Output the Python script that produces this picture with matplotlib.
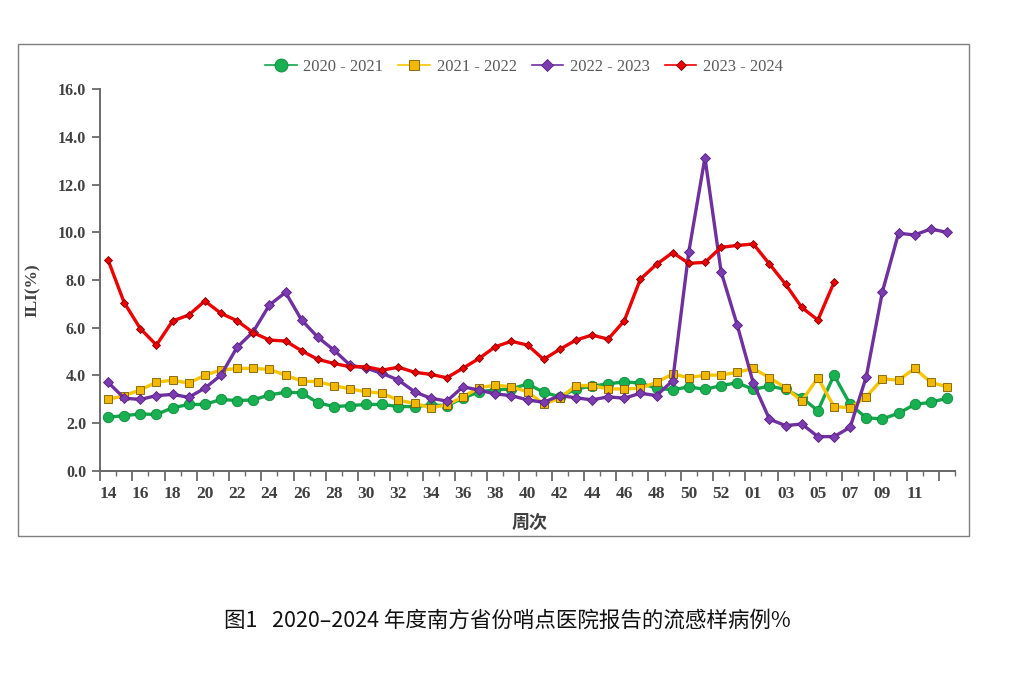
import matplotlib
matplotlib.use("Agg")
import matplotlib.pyplot as plt
from matplotlib.lines import Line2D
from matplotlib.patches import Rectangle
import numpy as np

weeks = [str(w) for w in range(14, 54)] + ["%02d" % w for w in range(1, 14)]
tick_labels = ["14", "16", "18", "20", "22", "24", "26", "28", "30", "32", "34", "36", "38",
               "40", "42", "44", "46", "48", "50", "52", "01", "03", "05", "07", "09", "11"]

s2020 = [2.24, 2.31, 2.38, 2.36, 2.64, 2.78, 2.78, 2.99, 2.94, 2.97, 3.18, 3.29, 3.27, 2.85,
         2.69, 2.73, 2.78, 2.78, 2.69, 2.69, 2.76, 2.73, 3.04, 3.31, 3.39, 3.43, 3.64, 3.29,
         3.10, 3.43, 3.55, 3.64, 3.73, 3.67, 3.46, 3.39, 3.52, 3.41, 3.57, 3.69, 3.41, 3.55,
         3.41, 3.06, 2.52, 4.01, 2.78, 2.22, 2.17, 2.41, 2.78, 2.87, 3.04]
s2021 = [2.99, 3.15, 3.39, 3.71, 3.80, 3.67, 4.01, 4.22, 4.29, 4.29, 4.25, 4.01, 3.76, 3.73,
         3.57, 3.43, 3.31, 3.25, 2.95, 2.83, 2.64, 2.76, 3.10, 3.48, 3.59, 3.52, 3.31, 2.80,
         3.04, 3.57, 3.57, 3.43, 3.43, 3.46, 3.71, 4.06, 3.90, 4.01, 4.01, 4.13, 4.29, 3.90,
         3.48, 2.92, 3.90, 2.69, 2.64, 3.10, 3.85, 3.80, 4.29, 3.71, 3.52]
s2022 = [3.71, 3.04, 2.99, 3.15, 3.20, 3.08, 3.46, 4.01, 5.18, 5.83, 6.95, 7.48, 6.32, 5.60,
         5.06, 4.43, 4.30, 4.08, 3.80, 3.31, 3.04, 2.92, 3.52, 3.38, 3.22, 3.15, 2.97, 2.87,
         3.15, 3.06, 2.97, 3.10, 3.04, 3.25, 3.15, 3.78, 9.19, 13.13, 8.35, 6.11, 3.67, 2.16,
         1.89, 1.96, 1.43, 1.43, 1.82, 3.94, 7.51, 9.96, 9.89, 10.14, 10.00]
s2023 = [8.84, 7.05, 5.96, 5.27, 6.28, 6.53, 7.12, 6.60, 6.29, 5.79, 5.48, 5.44, 5.03, 4.67,
         4.50, 4.36, 4.36, 4.22, 4.34, 4.13, 4.04, 3.90, 4.30, 4.71, 5.20, 5.43, 5.27, 4.67,
         5.09, 5.48, 5.69, 5.52, 6.29, 8.04, 8.66, 9.15, 8.70, 8.74, 9.37, 9.45, 9.51, 8.67,
         7.82, 6.85, 6.32, 7.90]

series_names = ["2020 - 2021", "2021 - 2022", "2022 - 2023", "2023 - 2024"]

fig = plt.figure(figsize=(10.14, 6.77), dpi=100)
fig.patches.append(Rectangle((18 / 1014, 1 - 536 / 677), 951 / 1014, 492 / 677,
                             transform=fig.transFigure, fill=False,
                             edgecolor="#7f7f7f", linewidth=1.0))

ax = fig.add_axes([100 / 1014, 1 - 470.7 / 677, 855 / 1014, 381.4 / 677])

styles = [
    dict(color="#13A64A", marker="o", ms=7.5, mfc="#18B050", mec="#0E8A3C", lw=2.4),
    dict(color="#F7C600", marker="s", ms=5.2, mfc="#F2B800", mec="#7A5C00", lw=2.4),
    dict(color="#7030A0", marker="D", ms=5.0, mfc="#7A3CB0", mec="#5A2080", lw=2.4),
    dict(color="#EE0000", marker="D", ms=4.2, mfc="#EE0000", mec="#7A0000", lw=2.4),
]
data = [s2020, s2021, s2022, s2023]
for vals, st in zip(data, styles):
    x = np.arange(len(vals))
    ax.plot(x, vals, color=st["color"], lw=st["lw"], marker=st["marker"], ms=st["ms"],
            mfc=st["mfc"], mec=st["mec"], mew=0.6, solid_joinstyle="round", zorder=3)

ax.set_xlim(-0.5, len(weeks) - 0.5)
ax.set_ylim(0, 16)
for s in ["top", "right"]:
    ax.spines[s].set_visible(False)
for s in ["left", "bottom"]:
    ax.spines[s].set_color("#6a6a6a")
    ax.spines[s].set_linewidth(1.4)

serif = ["Liberation Serif", "DejaVu Serif"]
ax.set_yticks(np.arange(0, 16.1, 2))
ax.set_yticklabels(["%.1f" % v for v in np.arange(0, 16.1, 2)], fontfamily=serif,
                   fontweight="bold", fontsize=11.5, color="#404040")
ax.tick_params(axis="y", direction="out", length=6, width=1.3, color="#6a6a6a", pad=4)

label_pos = [weeks.index(t) if t in weeks[:40] else 40 + weeks[40:].index(t) for t in tick_labels]
ax.set_xticks(label_pos)
ax.set_xticklabels(tick_labels, fontfamily=serif, fontweight="bold", fontsize=12.5, color="#404040")
ax.tick_params(axis="x", length=0, pad=11)

sec = ax.secondary_xaxis("bottom")
bounds = np.arange(-0.5, len(weeks), 1.0)
sec.set_xticks(bounds[::2])
sec.set_xticks(bounds[1::2], minor=True)
sec.set_xticklabels([])
sec.tick_params(axis="x", which="major", direction="out", length=7, width=1.3, color="#6a6a6a")
sec.tick_params(axis="x", which="minor", direction="out", length=3.5, width=1.0, color="#6a6a6a")
sec.spines["bottom"].set_color("#6a6a6a")
sec.spines["bottom"].set_linewidth(1.4)

fig.text(33 / 1014, 1 - 290 / 677, "ILI(%)", rotation=90, ha="center", va="center",
         fontfamily=serif, fontweight="bold", fontsize=12.5, color="#404040")
fig.text(530 / 1014, 1 - 522 / 677, "周次", ha="center", va="center",
         fontfamily=["Noto Sans CJK SC", "DejaVu Sans"], fontweight="bold", fontsize=13,
         color="#404040")

handles = [Line2D([], [], color=st["color"], lw=1.2, marker=st["marker"],
                  ms=st["ms"] * 1.25, mfc=st["mfc"], mec=st["mec"], mew=0.6) for st in styles]
fig.legend(handles, series_names, loc="center", bbox_to_anchor=(524 / 1014, 1 - 67 / 677),
           ncol=4, frameon=False, prop={"family": serif, "size": 12},
           labelcolor="#595959", handlelength=1.9, handletextpad=0.4, columnspacing=0.9)

fig.text(507 / 1014, 1 - 621 / 677, "图1   2020–2024 年度南方省份哨点医院报告的流感样病例%",
         ha="center", va="center", fontfamily=["Noto Sans CJK SC", "DejaVu Sans"],
         fontsize=15.5, color="#111111")

fig.savefig("out.png", dpi=100)
